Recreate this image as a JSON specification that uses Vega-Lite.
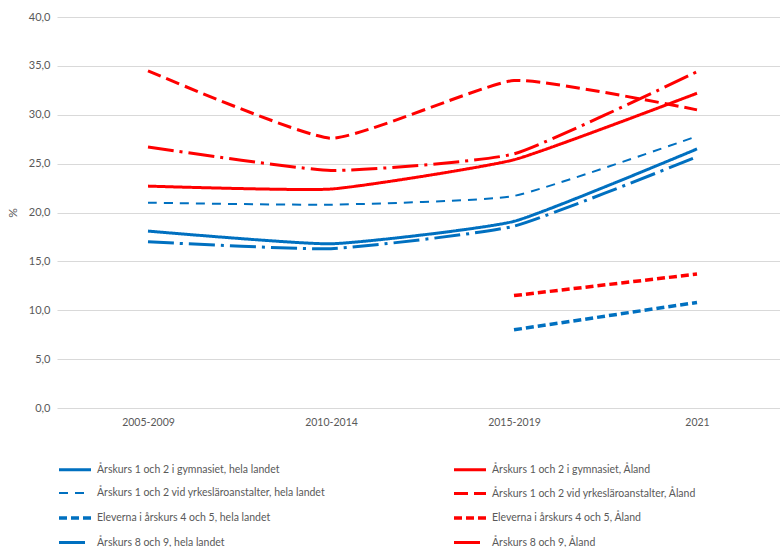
{
  "$schema": "https://vega.github.io/schema/vega-lite/v6.json",
  "width": 723,
  "height": 391,
  "autosize": {"type": "none"},
  "padding": {"left": 57, "top": 17, "right": 0, "bottom": 139},
  "background": "white",
  "config": {"view": {"stroke": null}, "font": "Lato"},
  "data": {
    "values": [
      {"period": "2005-2009", "series": "Årskurs 1 och 2 i gymnasiet, hela landet", "value": 18.1},
      {"period": "2010-2014", "series": "Årskurs 1 och 2 i gymnasiet, hela landet", "value": 16.8},
      {"period": "2015-2019", "series": "Årskurs 1 och 2 i gymnasiet, hela landet", "value": 19.1},
      {"period": "2021", "series": "Årskurs 1 och 2 i gymnasiet, hela landet", "value": 26.5},
      {"period": "2005-2009", "series": "Årskurs 1 och 2 vid yrkesläroanstalter, hela landet", "value": 21.0},
      {"period": "2010-2014", "series": "Årskurs 1 och 2 vid yrkesläroanstalter, hela landet", "value": 20.8},
      {"period": "2015-2019", "series": "Årskurs 1 och 2 vid yrkesläroanstalter, hela landet", "value": 21.7},
      {"period": "2021", "series": "Årskurs 1 och 2 vid yrkesläroanstalter, hela landet", "value": 27.8},
      {"period": "2015-2019", "series": "Eleverna i årskurs 4 och 5, hela landet", "value": 8.0},
      {"period": "2021", "series": "Eleverna i årskurs 4 och 5, hela landet", "value": 10.8},
      {"period": "2005-2009", "series": "Årskurs 8 och 9, hela landet", "value": 17.0},
      {"period": "2010-2014", "series": "Årskurs 8 och 9, hela landet", "value": 16.3},
      {"period": "2015-2019", "series": "Årskurs 8 och 9, hela landet", "value": 18.6},
      {"period": "2021", "series": "Årskurs 8 och 9, hela landet", "value": 25.7},
      {"period": "2005-2009", "series": "Årskurs 1 och 2 i gymnasiet, Åland", "value": 22.7},
      {"period": "2010-2014", "series": "Årskurs 1 och 2 i gymnasiet, Åland", "value": 22.4},
      {"period": "2015-2019", "series": "Årskurs 1 och 2 i gymnasiet, Åland", "value": 25.4},
      {"period": "2021", "series": "Årskurs 1 och 2 i gymnasiet, Åland", "value": 32.2},
      {"period": "2005-2009", "series": "Årskurs 1 och 2 vid yrkesläroanstalter, Åland", "value": 34.5},
      {"period": "2010-2014", "series": "Årskurs 1 och 2 vid yrkesläroanstalter, Åland", "value": 27.6},
      {"period": "2015-2019", "series": "Årskurs 1 och 2 vid yrkesläroanstalter, Åland", "value": 33.5},
      {"period": "2021", "series": "Årskurs 1 och 2 vid yrkesläroanstalter, Åland", "value": 30.5},
      {"period": "2015-2019", "series": "Eleverna i årskurs 4 och 5, Åland", "value": 11.5},
      {"period": "2021", "series": "Eleverna i årskurs 4 och 5, Åland", "value": 13.7},
      {"period": "2005-2009", "series": "Årskurs 8 och 9, Åland", "value": 26.7},
      {"period": "2010-2014", "series": "Årskurs 8 och 9, Åland", "value": 24.3},
      {"period": "2015-2019", "series": "Årskurs 8 och 9, Åland", "value": 26.0},
      {"period": "2021", "series": "Årskurs 8 och 9, Åland", "value": 34.4}
    ]
  },
  "mark": {"type": "line", "interpolate": "cardinal", "tension": 0.55, "strokeCap": "butt"},
  "encoding": {
    "x": {
      "field": "period",
      "type": "ordinal",
      "sort": ["2005-2009", "2010-2014", "2015-2019", "2021"],
      "scale": {"type": "point", "padding": 0.4754, "align": 0.523},
      "axis": {"title": null, "labelAngle": 0, "ticks": false, "domain": false, "labelPadding": 9, "labelColor": "#595959", "labelFontSize": 10.5}
    },
    "y": {
      "field": "value",
      "type": "quantitative",
      "scale": {"domain": [0, 40], "nice": false},
      "axis": {
        "values": [0, 5, 10, 15, 20, 25, 30, 35, 40],
        "labelExpr": "replace(format(datum.value, '.1f'), '.', ',')",
        "title": "%",
        "titleFontWeight": "normal",
        "titleColor": "#595959",
        "titleFontSize": 12,
        "titleX": -38,
        "ticks": false,
        "domain": false,
        "gridColor": "#d9d9d9",
        "labelColor": "#595959",
        "labelFontSize": 11,
        "labelPadding": 7
      }
    },
    "color": {
      "field": "series",
      "type": "nominal",
      "scale": {
        "domain": [
          "Årskurs 1 och 2 i gymnasiet, hela landet",
          "Årskurs 1 och 2 vid yrkesläroanstalter, hela landet",
          "Eleverna i årskurs 4 och 5, hela landet",
          "Årskurs 8 och 9, hela landet",
          "Årskurs 1 och 2 i gymnasiet, Åland",
          "Årskurs 1 och 2 vid yrkesläroanstalter, Åland",
          "Eleverna i årskurs 4 och 5, Åland",
          "Årskurs 8 och 9, Åland"
        ],
        "range": ["#0070C0", "#0070C0", "#0070C0", "#0070C0", "#FF0000", "#FF0000", "#FF0000", "#FF0000"]
      },
      "legend": {
        "title": null,
        "orient": "none",
        "legendX": 0,
        "legendY": 435,
        "columns": 2,
        "columnPadding": 121,
        "rowPadding": 0,
        "symbolType": "stroke",
        "symbolSize": 1024,
        "labelFontSize": 10.5,
        "labelColor": "#595959",
        "labelOffset": 4,
        "labelLimit": 400
      }
    },
    "strokeDash": {
      "field": "series",
      "type": "nominal",
      "scale": {
        "domain": [
          "Årskurs 1 och 2 i gymnasiet, hela landet",
          "Årskurs 1 och 2 vid yrkesläroanstalter, hela landet",
          "Eleverna i årskurs 4 och 5, hela landet",
          "Årskurs 8 och 9, hela landet",
          "Årskurs 1 och 2 i gymnasiet, Åland",
          "Årskurs 1 och 2 vid yrkesläroanstalter, Åland",
          "Eleverna i årskurs 4 och 5, Åland",
          "Årskurs 8 och 9, Åland"
        ],
        "range": [[1, 0], [9, 7], [8, 4], [26, 6, 3, 6], [1, 0], [14, 6], [8, 4], [26, 6, 3, 6]]
      }
    },
    "strokeWidth": {
      "field": "series",
      "type": "nominal",
      "scale": {
        "type": "ordinal",
        "domain": [
          "Årskurs 1 och 2 i gymnasiet, hela landet",
          "Årskurs 1 och 2 vid yrkesläroanstalter, hela landet",
          "Eleverna i årskurs 4 och 5, hela landet",
          "Årskurs 8 och 9, hela landet",
          "Årskurs 1 och 2 i gymnasiet, Åland",
          "Årskurs 1 och 2 vid yrkesläroanstalter, Åland",
          "Eleverna i årskurs 4 och 5, Åland",
          "Årskurs 8 och 9, Åland"
        ],
        "range": [3, 2, 3.5, 3, 3, 3, 3.5, 3]
      }
    }
  }
}
